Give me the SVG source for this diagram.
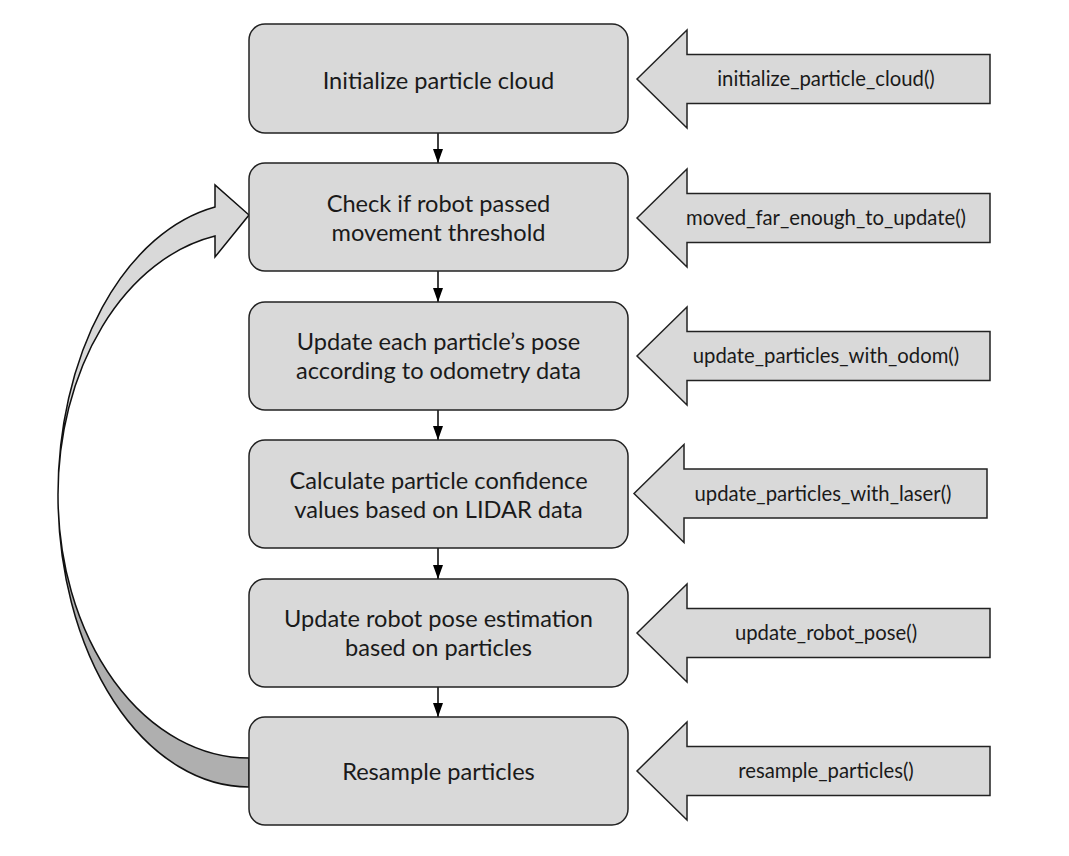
<svg xmlns="http://www.w3.org/2000/svg" width="1069" height="856" viewBox="0 0 1069 856">
<defs>
<marker id="arr" viewBox="0 0 14 10" markerWidth="14" markerHeight="10" refX="14" refY="5" orient="auto" markerUnits="userSpaceOnUse">
<path d="M0,0 L14,5 L0,10 Z" fill="#000"/>
</marker>
<style>
.box{fill:#d9d9d9;stroke:#222;stroke-width:1.5}
.bt{font-family:Lato,"Liberation Sans",sans-serif;font-size:23.6px;fill:#1a1a1a;text-anchor:middle}
.blk{fill:#d9d9d9;stroke:#222;stroke-width:1.5;stroke-linejoin:miter}
.at{font-family:Lato,"Liberation Sans",sans-serif;font-size:20.3px;fill:#1a1a1a;text-anchor:middle}
.con{stroke:#000;stroke-width:1.5;fill:none}
</style>
</defs>
<rect width="1069" height="856" fill="#fff"/>
<g id="loop-arrow">
<path d="M58,495 A191,292 0 0 0 249,787 L249,758 A191,263 0 0 1 58,495 Z" fill="#afafaf" stroke="#111" stroke-width="1.5"/>
<path d="M215,207 A191,292 0 0 0 58,495 A191,263 0 0 1 215,236 L215,257 L249,215 L215,185 Z" fill="#d9d9d9" stroke="#111" stroke-width="1.5" stroke-linejoin="miter"/>
</g>
<g id="connectors">
<line class="con" x1="438" y1="133" x2="438" y2="163" marker-end="url(#arr)"/>
<line class="con" x1="438" y1="271" x2="438" y2="302" marker-end="url(#arr)"/>
<line class="con" x1="438" y1="410" x2="438" y2="440" marker-end="url(#arr)"/>
<line class="con" x1="438" y1="548" x2="438" y2="579" marker-end="url(#arr)"/>
<line class="con" x1="438" y1="687" x2="438" y2="717" marker-end="url(#arr)"/>
</g>
<g id="n1"><rect class="box" x="249" y="24" width="379" height="109" rx="16"/><text class="bt" x="438.5" y="89">Initialize particle cloud</text></g>
<g id="n2"><rect class="box" x="249" y="163" width="379" height="108" rx="16"/><text class="bt" x="438.5" y="212">Check if robot passed</text><text class="bt" x="438.5" y="241">movement threshold</text></g>
<g id="n3"><rect class="box" x="249" y="302" width="379" height="108" rx="16"/><text class="bt" x="438.5" y="350">Update each particle’s pose</text><text class="bt" x="438.5" y="379">according to odometry data</text></g>
<g id="n4"><rect class="box" x="249" y="440" width="379" height="108" rx="16"/><text class="bt" x="438.5" y="489">Calculate particle confidence</text><text class="bt" x="438.5" y="518">values based on LIDAR data</text></g>
<g id="n5"><rect class="box" x="249" y="579" width="379" height="108" rx="16"/><text class="bt" x="438.5" y="627">Update robot pose estimation</text><text class="bt" x="438.5" y="656">based on particles</text></g>
<g id="n6"><rect class="box" x="249" y="717" width="379" height="108" rx="16"/><text class="bt" x="438.5" y="780">Resample particles</text></g>
<g id="a1"><path class="blk" d="M637,79 L687,30 L687,54.5 L990,54.5 L990,103.5 L687,103.5 L687,128 Z"/><text class="at" x="826" y="86">initialize_particle_cloud()</text></g>
<g id="a2"><path class="blk" d="M637,218 L687,169 L687,193.5 L990,193.5 L990,242.5 L687,242.5 L687,267 Z"/><text class="at" x="826" y="225">moved_far_enough_to_update()</text></g>
<g id="a3"><path class="blk" d="M637,356 L687,307 L687,331.5 L990,331.5 L990,380.5 L687,380.5 L687,405 Z"/><text class="at" x="826" y="363">update_particles_with_odom()</text></g>
<g id="a4"><path class="blk" d="M634,493.5 L684,444.5 L684,469 L987,469 L987,518 L684,518 L684,542.5 Z"/><text class="at" x="823" y="500.5">update_particles_with_laser()</text></g>
<g id="a5"><path class="blk" d="M637,633 L687,584 L687,608.5 L990,608.5 L990,657.5 L687,657.5 L687,682 Z"/><text class="at" x="826" y="640">update_robot_pose()</text></g>
<g id="a6"><path class="blk" d="M637,771 L687,722 L687,746.5 L990,746.5 L990,795.5 L687,795.5 L687,820 Z"/><text class="at" x="826" y="778">resample_particles()</text></g>
</svg>
